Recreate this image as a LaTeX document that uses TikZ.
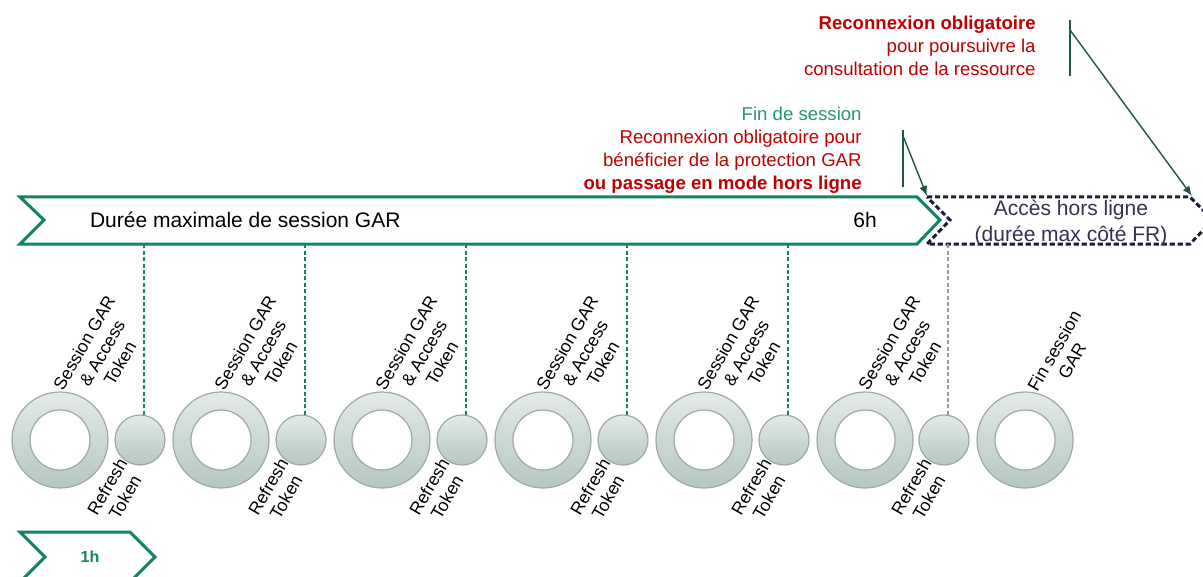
\documentclass[tikz,border=0pt]{standalone}
\usepackage{fontspec}
\setmainfont{Liberation Sans}
\usepackage{xcolor}
\definecolor{sessiongreen}{RGB}{18,133,95}
\definecolor{calloutgreen}{RGB}{30,88,64}
\definecolor{finsessiongreen}{RGB}{38,150,112}
\definecolor{reconnexionred}{RGB}{192,0,0}
\definecolor{offlinenavy}{RGB}{28,28,62}
\definecolor{offlinetext}{RGB}{50,50,80}
\definecolor{ringgrey}{RGB}{160,168,164}
\definecolor{ringtop}{RGB}{228,234,231}
\definecolor{ringbottom}{RGB}{180,200,191}
\usetikzlibrary{arrows, arrows.meta}
\usetikzlibrary{positioning}
\usetikzlibrary{calc}

\tikzset{
	ring/.style={circle, draw=ringgrey, line width=0.6pt, top color=ringtop, bottom color=ringbottom, minimum size=48pt, inner sep=0pt},
	hole/.style={circle, draw=ringgrey, line width=0.6pt, fill=white, minimum size=30pt, inner sep=0pt},
	refresh/.style={circle, draw=ringgrey, line width=0.6pt, top color=ringtop, bottom color=ringbottom, minimum size=25pt, inner sep=0pt},
	tokenlabel/.style={rotate=60, align=center, inner sep=0pt, font=\fontsize{8.8}{10.3}\selectfont},
	tokenline/.style={sessiongreen, line width=1pt, dash pattern=on 2pt off 1.2pt},
	callout/.style={calloutgreen, line width=0.7pt}
}

\begin{document}
\begin{tikzpicture}[x=0.5pt, y=-0.5pt]
	\clip (0,0) rectangle (1203,577);
	
	%session bar
	\draw[sessiongreen, line width=1.5pt] (20,197) -- (917,197) -- (940,220) -- (917,244) -- (20,244) -- (44,220) -- cycle;
	\coordinate (bar-bottom) at (0,244);
	\node[anchor=west, font=\fontsize{10.5}{12}\selectfont] (duree) at (83,220) {Durée maximale de session GAR};
	\node[font=\fontsize{10.5}{12}\selectfont] (sixh) at (865,220) {6h};
	
	%offline bar
	\draw[offlinenavy, line width=1.5pt, dash pattern=on 2.6pt off 1.4pt] (927,197) -- (1190,197) -- (1213,220) -- (1190,244) -- (927,244) -- (950,220) -- cycle;
	\coordinate (off-left) at (927,196);
	\coordinate (off-right) at (1192,196);
	\node[align=center, text=offlinetext, font=\fontsize{10.5}{13}\selectfont] (horsligne) at (1071,223) {Accès hors ligne\\(durée max côté FR)};
	
	%one hour bar
	\draw[sessiongreen, line width=1.5pt] (20,532) -- (130,532) -- (155,557) -- (130,582) -- (20,582) -- (45,557) -- cycle;
	\node[text=sessiongreen, font=\fontsize{8}{10}\selectfont\bfseries] (oneh) at (90,557) {1h};
	
	%rings
	\node[ring] (s1) at (60,440) {};   \node[hole] at (s1) {};
	\node[ring] (s2) at (221,440) {};  \node[hole] at (s2) {};
	\node[ring] (s3) at (382,440) {};  \node[hole] at (s3) {};
	\node[ring] (s4) at (543,440) {};  \node[hole] at (s4) {};
	\node[ring] (s5) at (704,440) {};  \node[hole] at (s5) {};
	\node[ring] (s6) at (865,440) {};  \node[hole] at (s6) {};
	\node[ring] (fin) at (1025,440) {}; \node[hole] at (fin) {};
	
	%refresh tokens
	\node[refresh] (r1) at (140,440) {};
	\node[refresh] (r2) at (301,440) {};
	\node[refresh] (r3) at (462,440) {};
	\node[refresh] (r4) at (623,440) {};
	\node[refresh] (r5) at (784,440) {};
	\node[refresh] (r6) at (944,440) {};
	
	%dashed lines
	\draw[tokenline] (r1.80) -- (r1.80 |- bar-bottom);
	\draw[tokenline] (r2.80) -- (r2.80 |- bar-bottom);
	\draw[tokenline] (r3.80) -- (r3.80 |- bar-bottom);
	\draw[tokenline] (r4.80) -- (r4.80 |- bar-bottom);
	\draw[tokenline] (r5.80) -- (r5.80 |- bar-bottom);
	\draw[tokenline, gray!80] (r6.80) -- (r6.80 |- bar-bottom);
	
	%labels
	\node[tokenlabel] (ls1) at ($(s1)+(42,-87)$) {Session GAR\\\& Access\\Token};
	\node[tokenlabel] (ls2) at ($(s2)+(42,-87)$) {Session GAR\\\& Access\\Token};
	\node[tokenlabel] (ls3) at ($(s3)+(42,-87)$) {Session GAR\\\& Access\\Token};
	\node[tokenlabel] (ls4) at ($(s4)+(42,-87)$) {Session GAR\\\& Access\\Token};
	\node[tokenlabel] (ls5) at ($(s5)+(42,-87)$) {Session GAR\\\& Access\\Token};
	\node[tokenlabel] (ls6) at ($(s6)+(42,-87)$) {Session GAR\\\& Access\\Token};
	\node[tokenlabel] (lfin) at ($(fin)+(38,-84)$) {Fin session\\GAR};
	\node[tokenlabel] (lr1) at ($(r1)+(-24,52)$) {Refresh\\Token};
	\node[tokenlabel] (lr2) at ($(r2)+(-24,52)$) {Refresh\\Token};
	\node[tokenlabel] (lr3) at ($(r3)+(-24,52)$) {Refresh\\Token};
	\node[tokenlabel] (lr4) at ($(r4)+(-24,52)$) {Refresh\\Token};
	\node[tokenlabel] (lr5) at ($(r5)+(-24,52)$) {Refresh\\Token};
	\node[tokenlabel] (lr6) at ($(r6)+(-24,52)$) {Refresh\\Token};
	
	%callouts
	\node[anchor=north east, align=right, inner sep=0pt, text=reconnexionred, font=\fontsize{9.3}{11.5}\selectfont] (finsession) at (862,107) {\textcolor{finsessiongreen}{Fin de session}\\Reconnexion obligatoire pour\\bénéficier de la protection GAR\\\textbf{ou passage en mode hors ligne}};
	\coordinate (c1-top) at (903,130);
	\coordinate (c1-bot) at (903,187);
	\draw[callout] (c1-top) -- (c1-bot);
	\draw[callout, -{Latex[length=5pt, width=4pt]}] ($(c1-top)+(0,6)$) -- (off-left);
	
	\node[anchor=north east, align=right, inner sep=0pt, text=reconnexionred, font=\fontsize{9.3}{11.5}\selectfont] (reconnexion) at (1036,16) {\textbf{Reconnexion obligatoire}\\pour poursuivre la\\consultation de la ressource};
	\coordinate (c2-top) at (1070,20);
	\coordinate (c2-bot) at (1070,76);
	\draw[callout] (c2-top) -- (c2-bot);
	\draw[callout, -{Latex[length=5pt, width=4pt]}] ($(c2-top)+(0,10)$) -- (off-right);
\end{tikzpicture}
\end{document}
